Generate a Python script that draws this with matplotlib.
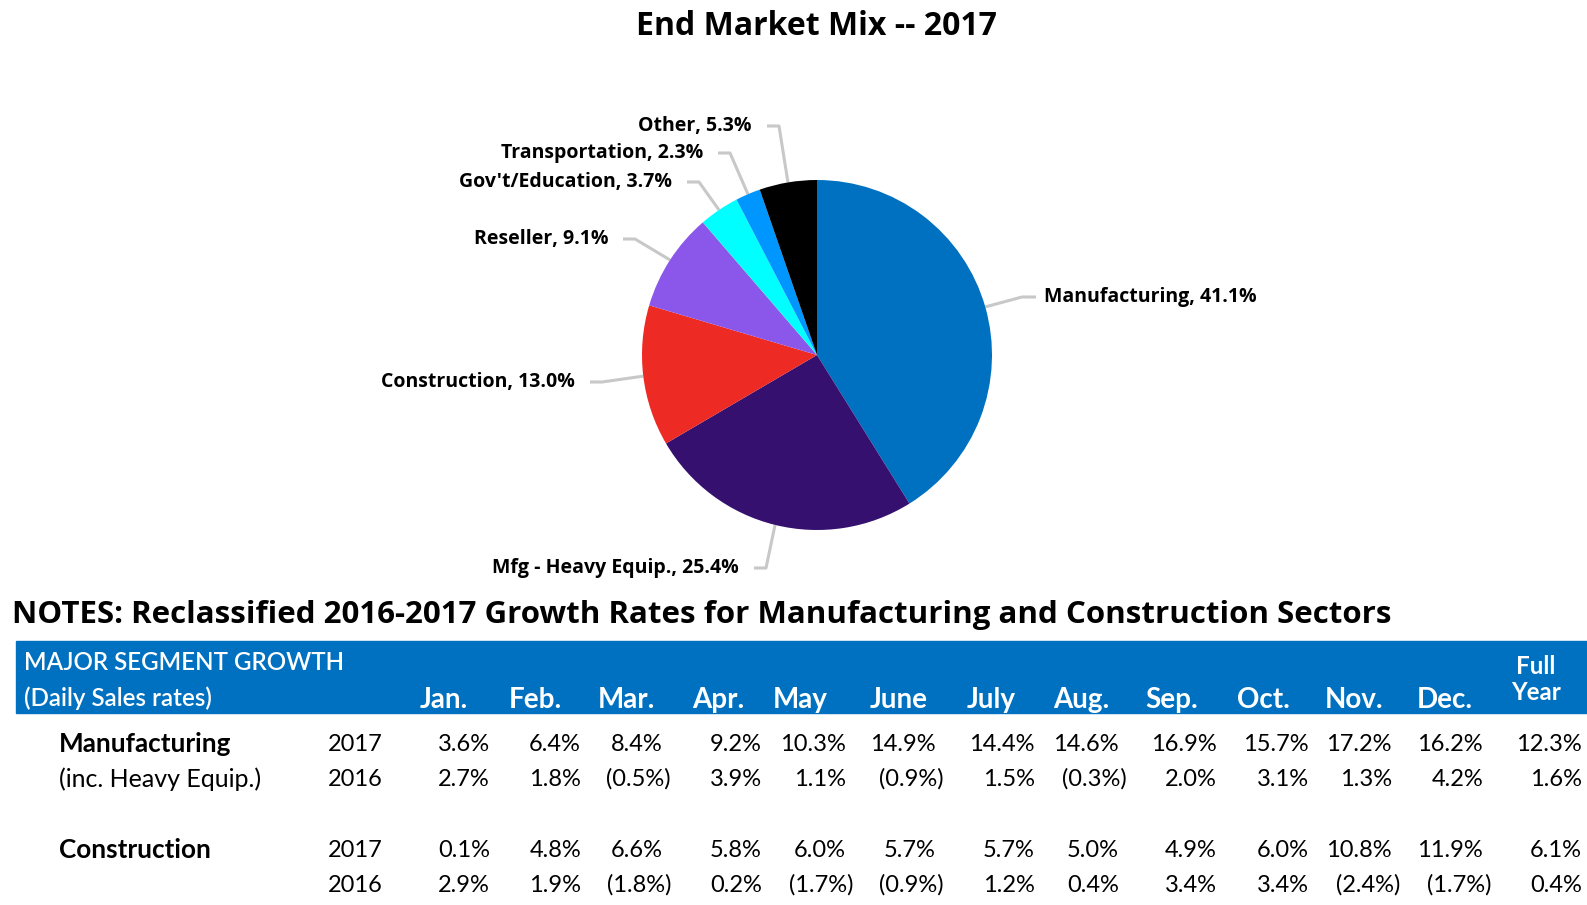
import matplotlib.pyplot as plt
import numpy as np
from matplotlib.patches import Rectangle

# Pie data (2017 end market mix, %)
segments = ["Manufacturing", "Mfg - Heavy Equip.", "Construction", "Reseller",
            "Gov't/Education", "Transportation", "Other"]
shares = [41.1, 25.4, 13.0, 9.1, 3.7, 2.3, 5.3]
colors = ["#0070C0", "#35106F", "#EE2A24", "#8B57EA", "#00FFFF", "#0096FF", "#000000"]

# Table data (daily sales growth rates, %); last value is full year
months = ["Jan.", "Feb.", "Mar.", "Apr.", "May", "June", "July", "Aug.",
          "Sep.", "Oct.", "Nov.", "Dec."]
mfg_2017 = [3.6, 6.4, 8.4, 9.2, 10.3, 14.9, 14.4, 14.6, 16.9, 15.7, 17.2, 16.2, 12.3]
mfg_2016 = [2.7, 1.8, -0.5, 3.9, 1.1, -0.9, 1.5, -0.3, 2.0, 3.1, 1.3, 4.2, 1.6]
con_2017 = [0.1, 4.8, 6.6, 5.8, 6.0, 5.7, 5.7, 5.0, 4.9, 6.0, 10.8, 11.9, 6.1]
con_2016 = [2.9, 1.9, -1.8, 0.2, -1.7, -0.9, 1.2, 0.4, 3.4, 3.4, -2.4, -1.7, 0.4]

W, H = 1587, 905
fig = plt.figure(figsize=(W / 100, H / 100), dpi=100)
ax = fig.add_axes([0, 0, 1, 1])


def Y(y):
    # pixel row from top -> data y
    return H - y


# ---- pie ----
cx, cy, R = 817, 355, 175
wedges, _ = ax.pie(shares, colors=colors, startangle=90, counterclock=False,
                   center=(cx, Y(cy)), radius=R, frame=True)
ax.set_xlim(0, W)
ax.set_ylim(0, H)
ax.set_aspect("auto")
ax.axis("off")

pie_font = dict(family="Open Sans", fontweight="bold", fontsize=14, color="black")

# label anchor x, y (from top), side
label_pos = [
    (1044, 297, "left"),
    (739, 568, "right"),
    (575, 382, "right"),
    (608, 239, "right"),
    (672, 182, "right"),
    (703, 153, "right"),
    (752, 126, "right"),
]

for w, name, val, (lx, ly, side) in zip(wedges, segments, shares, label_pos):
    mid = np.deg2rad((w.theta1 + w.theta2) / 2)
    ex = w.center[0] + w.r * np.cos(mid)
    ey = w.center[1] + w.r * np.sin(mid)
    if side == "right":
        x0, x1 = lx + 15, lx + 27
    else:
        x0, x1 = lx - 8, lx - 22
    ax.plot([x0, x1, ex], [Y(ly), Y(ly), ey], color="#C8C8C8", lw=2.2,
            solid_capstyle="butt", zorder=0)
    ax.text(lx, Y(ly), f"{name}, {val:.1f}%", ha=side, va="center", **pie_font)

ax.text(816, Y(27), "End Market Mix -- 2017", ha="center", va="center",
        family="Open Sans", fontweight="bold", fontsize=23)

ax.text(12, Y(615), "NOTES: Reclassified 2016-2017 Growth Rates for Manufacturing "
        "and Construction Sectors", ha="left", va="center",
        family="Open Sans", fontweight="bold", fontsize=22.5)

# ---- table ----
ax.add_patch(Rectangle((16, Y(713)), W - 16, 72, color="#0070C0", zorder=1))
tfont = "Lato"
hdr = dict(family=tfont, color="white", fontsize=17.4, va="center", zorder=2)
ax.text(24, Y(663), "MAJOR SEGMENT GROWTH", ha="left", fontweight="semibold", **hdr)
ax.text(24, Y(698), "(Daily Sales rates)", ha="left", fontweight="semibold", **hdr)

month_x = [444, 535, 626, 718, 800, 899, 991, 1081, 1172, 1263, 1354, 1445]
for mx, m in zip(month_x, months):
    ax.text(mx, Y(700), m, ha="center", fontweight="bold",
            **{**hdr, "fontsize": 20})
ax.text(1536, Y(666), "Full", ha="center", fontweight="bold", **hdr)
ax.text(1536, Y(693), "Year", ha="center", fontweight="bold", **hdr)

col_right = [498, 589, 671, 770, 854, 944, 1043, 1127, 1225, 1317, 1400, 1491, 1590]
paren_w = 8
cell = dict(family=tfont, color="black", fontsize=17, va="center")


def draw_row(y, year, vals):
    ax.text(328, Y(y), year, ha="left", **cell)
    for xr, v in zip(col_right, vals):
        if v < 0:
            ax.text(xr, Y(y), f"({abs(v):.1f}%)", ha="right", **cell)
        else:
            ax.text(xr - paren_w, Y(y), f"{v:.1f}%", ha="right", **cell)


ax.text(59, Y(744), "Manufacturing", ha="left", fontweight="bold",
        **{**cell, "fontsize": 18.8})
ax.text(59, Y(779), "(inc. Heavy Equip.)", ha="left", **{**cell, "fontsize": 18})
ax.text(59, Y(850), "Construction", ha="left", fontweight="bold",
        **{**cell, "fontsize": 18.8})
draw_row(744, "2017", mfg_2017)
draw_row(779, "2016", mfg_2016)
draw_row(850, "2017", con_2017)
draw_row(885, "2016", con_2016)

fig.savefig("out.png", dpi=100)
